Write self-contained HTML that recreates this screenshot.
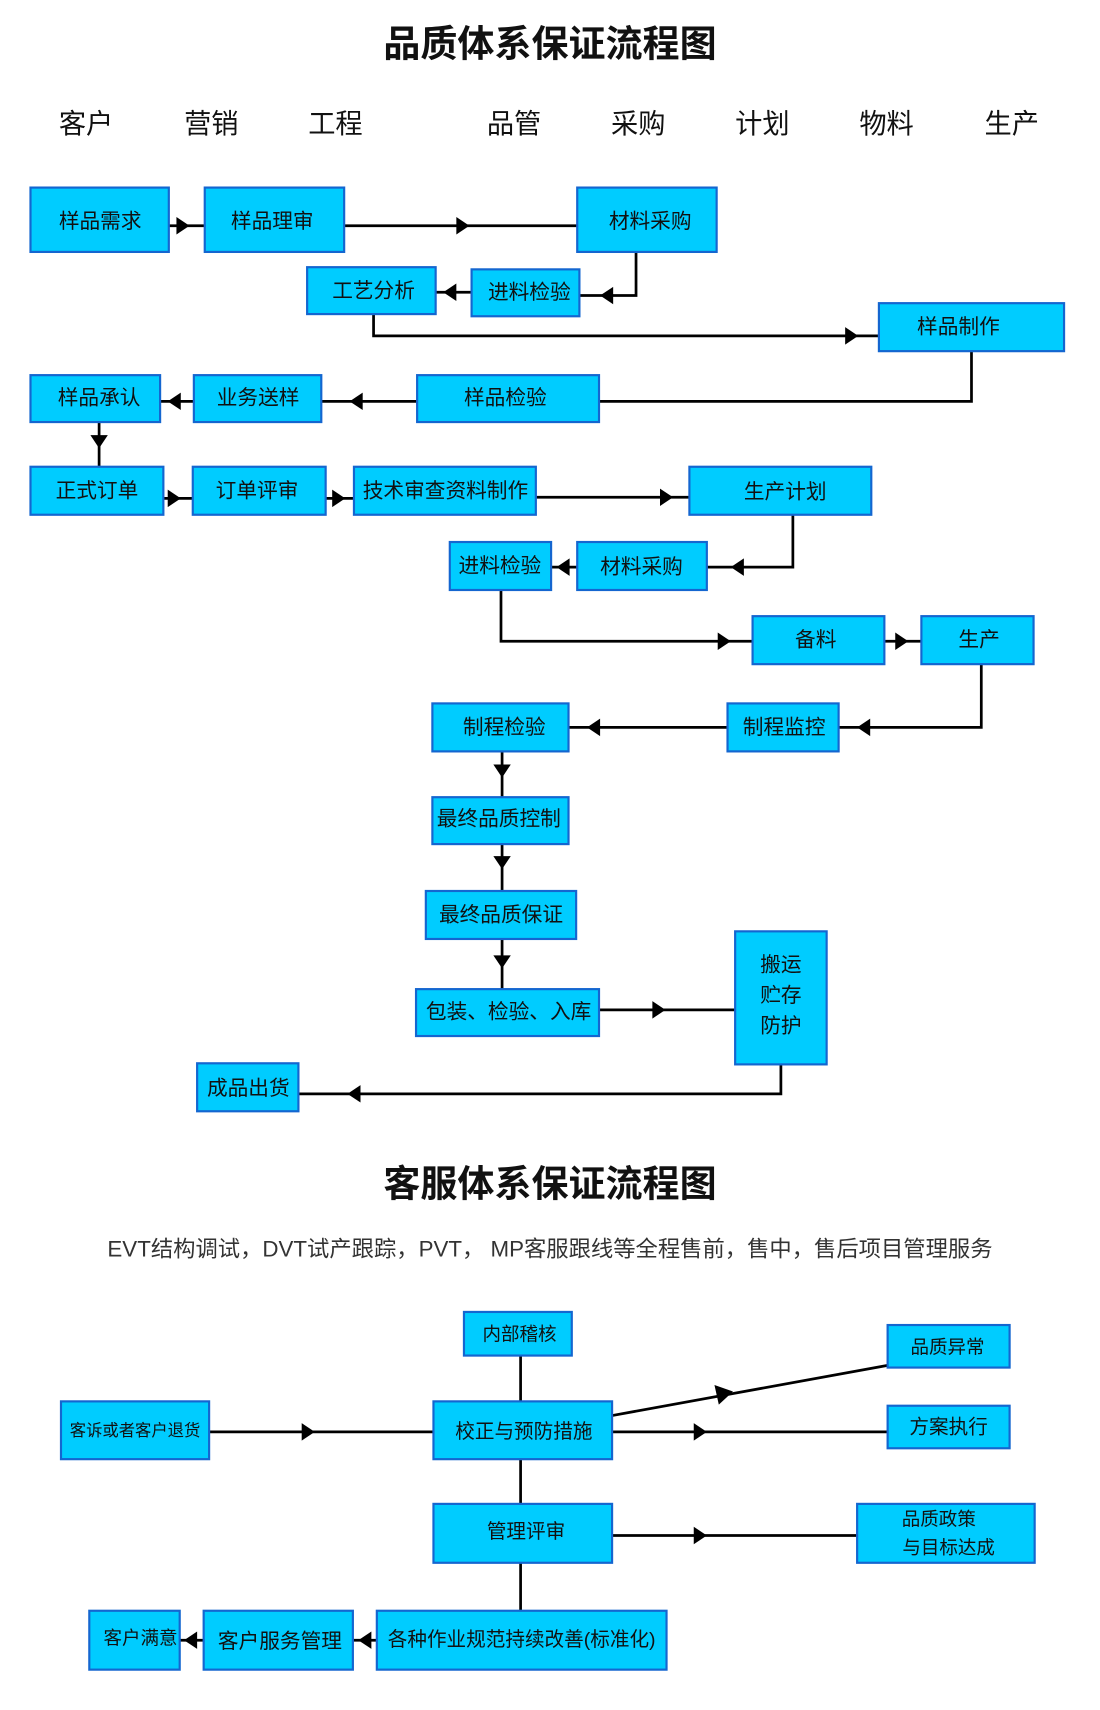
<!DOCTYPE html>
<html><head><meta charset="utf-8"><style>
html,body{margin:0;padding:0;background:#fff;}
svg{display:block;}
text{font-family:"Liberation Sans","Noto Sans CJK SC",sans-serif;fill:#111;}
.b{fill:#00CCFF;stroke:#1466D0;stroke-width:2;}
.l{stroke:#000;stroke-width:2.5;fill:none;}
.t{font-size:19px;text-anchor:middle;dominant-baseline:central;}
.h{font-size:25px;text-anchor:middle;}
</style></head><body>
<svg width="1100" height="1710" viewBox="0 0 1010 1568" preserveAspectRatio="none" xmlns="http://www.w3.org/2000/svg">
<text x="505" y="52" style="font-size:34px;font-weight:bold;text-anchor:middle">品质体系保证流程图</text>
<g class="hh">
<text class="h" x="79" y="122">客户</text><text class="h" x="194" y="122">营销</text><text class="h" x="308" y="122">工程</text><text class="h" x="472" y="122">品管</text><text class="h" x="586" y="122">采购</text><text class="h" x="700" y="122">计划</text><text class="h" x="814" y="122">物料</text><text class="h" x="929" y="122">生产</text>
</g>
<g class="l">
<path d="M155 207H188"/><path d="M316 207H530"/><path d="M584 231V271H532"/><path d="M433 268H400"/>
<path d="M343 288V308H807"/><path d="M892 322V368H550"/><path d="M383 368H295"/><path d="M178 368H147"/>
<path d="M91 387V428"/><path d="M150 457H177"/><path d="M299 457H325"/><path d="M492 456H633"/>
<path d="M728 472V520H649"/><path d="M530 520H506"/><path d="M460 541V588H691"/><path d="M812 588H846"/>
<path d="M901 609V667H770"/><path d="M668 667H522"/><path d="M461 689V731"/><path d="M461 774V817"/><path d="M461 861V907"/>
<path d="M550 926H675"/><path d="M717 976V1003H274"/>
<path d="M478 1243V1285"/><path d="M192 1313H398"/><path d="M562 1313H815"/><path d="M562 1298L815 1252"/>
<path d="M478 1338V1379"/><path d="M562 1408H787"/><path d="M478 1433V1477"/><path d="M346 1504H324"/><path d="M187 1504H165"/>
</g>
<g fill="#000">
<polygon points="162,199 174,207 162,215"/><polygon points="419,199 431,207 419,215"/>
<polygon points="563,263 551,271 563,279"/><polygon points="419,260 407,268 419,276"/>
<polygon points="776,300 788,308 776,316"/><polygon points="333,360 321,368 333,376"/>
<polygon points="166,360 154,368 166,376"/><polygon points="83,399 91,411 99,399"/>
<polygon points="154,449 166,457 154,465"/><polygon points="305,449 317,457 305,465"/>
<polygon points="606,448 618,456 606,464"/><polygon points="683,512 671,520 683,528"/>
<polygon points="523,512 511,520 523,528"/><polygon points="659,580 671,588 659,596"/>
<polygon points="822,580 834,588 822,596"/><polygon points="799,659 787,667 799,675"/>
<polygon points="551,659 539,667 551,675"/><polygon points="453,701 461,713 469,701"/>
<polygon points="453,785 461,797 469,785"/><polygon points="453,876 461,888 469,876"/>
<polygon points="599,918 611,926 599,934"/><polygon points="331,995 319,1003 331,1011"/>
<polygon points="277,1305 289,1313 277,1321"/><polygon points="637,1305 649,1313 637,1321"/>
<polygon points="656,1270 673,1276 660,1288"/>
<polygon points="637,1400 649,1408 637,1416"/><polygon points="341,1496 329,1504 341,1512"/>
<polygon points="181,1496 169,1504 181,1512"/>
</g>
<rect class="b" x="28" y="172" width="127" height="59"/><text class="t" x="92" y="203">样品需求</text>
<rect class="b" x="188" y="172" width="128" height="59"/><text class="t" x="250" y="203">样品理审</text>
<rect class="b" x="530" y="172" width="128" height="59"/><text class="t" x="597" y="203">材料采购</text>
<rect class="b" x="282" y="245" width="118" height="43"/><text class="t" x="343" y="267">工艺分析</text>
<rect class="b" x="433" y="247" width="99" height="43"/><text class="t" x="486" y="268">进料检验</text>
<rect class="b" x="807" y="278" width="170" height="44"/><text class="t" x="880" y="300">样品制作</text>
<rect class="b" x="28" y="344" width="119" height="43"/><text class="t" x="91" y="365">样品承认</text>
<rect class="b" x="178" y="344" width="117" height="43"/><text class="t" x="237" y="365">业务送样</text>
<rect class="b" x="383" y="344" width="167" height="43"/><text class="t" x="464" y="365">样品检验</text>
<rect class="b" x="28" y="428" width="122" height="44"/><text class="t" x="89" y="450">正式订单</text>
<rect class="b" x="177" y="428" width="122" height="44"/><text class="t" x="236" y="450">订单评审</text>
<rect class="b" x="325" y="428" width="167" height="44"/><text class="t" x="409" y="450">技术审查资料制作</text>
<rect class="b" x="633" y="428" width="167" height="44"/><text class="t" x="721" y="451">生产计划</text>
<rect class="b" x="413" y="497" width="93" height="44"/><text class="t" x="459" y="519">进料检验</text>
<rect class="b" x="530" y="497" width="119" height="44"/><text class="t" x="589" y="520">材料采购</text>
<rect class="b" x="691" y="565" width="121" height="44"/><text class="t" x="749" y="587">备料</text>
<rect class="b" x="846" y="565" width="103" height="44"/><text class="t" x="899" y="587">生产</text>
<rect class="b" x="397" y="645" width="125" height="44"/><text class="t" x="463" y="667">制程检验</text>
<rect class="b" x="668" y="645" width="102" height="44"/><text class="t" x="720" y="667">制程监控</text>
<rect class="b" x="397" y="731" width="125" height="43"/><text class="t" x="458" y="751">最终品质控制</text>
<rect class="b" x="391" y="817" width="138" height="44"/><text class="t" x="460" y="839">最终品质保证</text>
<rect class="b" x="382" y="907" width="168" height="43"/><text class="t" x="467" y="928">包装、检验、入库</text>
<rect class="b" x="675" y="854" width="84" height="122"/><text class="t" x="717" y="885">搬运</text><text class="t" x="717" y="913">贮存</text><text class="t" x="717" y="941">防护</text>
<rect class="b" x="181" y="975" width="93" height="44"/><text class="t" x="228" y="998">成品出货</text>

<text x="505" y="1097" style="font-size:34px;font-weight:bold;text-anchor:middle">客服体系保证流程图</text>
<text x="505" y="1152" style="font-size:20.5px;text-anchor:middle;fill:#333">EVT结构调试，DVT试产跟踪，PVT， MP客服跟线等全程售前，售中，售后项目管理服务</text>

<rect class="b" x="426" y="1203" width="99" height="40"/><text class="t" x="477" y="1223" style="font-size:17px">内部稽核</text>
<rect class="b" x="815" y="1215" width="112" height="39"/><text class="t" x="870" y="1235" style="font-size:17px">品质异常</text>
<rect class="b" x="56" y="1285" width="136" height="53"/><text class="t" x="124" y="1312" style="font-size:15px">客诉或者客户退货</text>
<rect class="b" x="398" y="1285" width="164" height="53"/><text class="t" x="481" y="1313" style="font-size:18px">校正与预防措施</text>
<rect class="b" x="815" y="1289" width="112" height="39"/><text class="t" x="871" y="1309" style="font-size:18px">方案执行</text>
<rect class="b" x="398" y="1379" width="164" height="54"/><text class="t" x="483" y="1405" style="font-size:18px">管理评审</text>
<rect class="b" x="787" y="1379" width="163" height="54"/><text class="t" x="862" y="1393" style="font-size:17px">品质政策</text><text class="t" x="871" y="1419" style="font-size:17px">与目标达成</text>
<rect class="b" x="82" y="1477" width="83" height="54"/><text class="t" x="129" y="1502" style="font-size:17px">客户满意</text>
<rect class="b" x="187" y="1477" width="137" height="54"/><text class="t" x="257" y="1505" style="font-size:19px">客户服务管理</text>
<rect class="b" x="346" y="1477" width="266" height="54"/><text class="t" x="479" y="1504" style="font-size:18px">各种作业规范持续改善(标准化)</text>
</svg>
</body></html>
